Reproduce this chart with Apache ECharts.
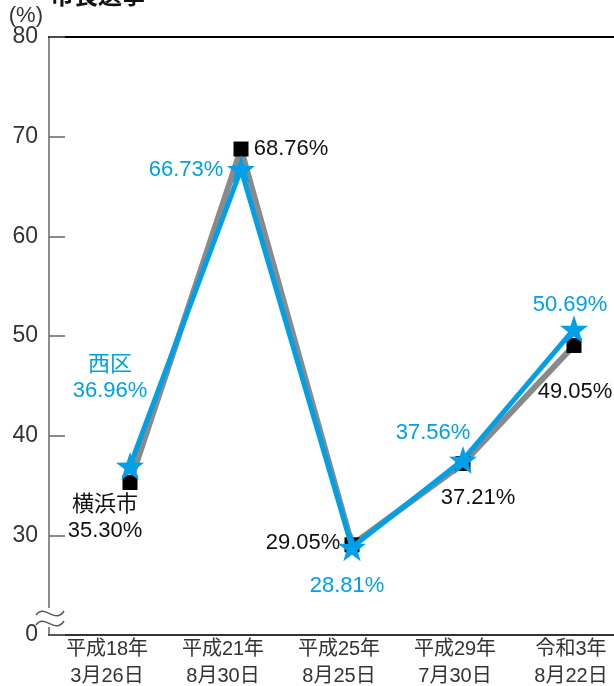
<!DOCTYPE html>
<html>
<head>
<meta charset="utf-8">
<script src="https://cdn.jsdelivr.net/npm/echarts@6/dist/echarts.min.js"></script>
<style>
html,body{margin:0;padding:0;background:#fff;}
#chart{width:614px;height:686px;}
</style>
</head>
<body>
<div id="chart"></div>
<script>
// ---- data ----
const titleText = '市長選挙';
const unitLabel = '(%)';
const categories = ['平成18年\n3月26日', '平成21年\n8月30日', '平成25年\n8月25日', '平成29年\n7月30日', '令和3年\n8月22日'];
const seriesNames = ['横浜市', '西区'];
const yokohama = [35.30, 68.76, 29.05, 37.21, 49.05];
const nishi = [36.96, 66.73, 28.81, 37.56, 50.69];
const yMin = 20, yMax = 80, yStep = 10;   // bottom of broken axis is labelled 0
const brokenBottomLabel = '0';

// ---- styles ----
const FONT = "'Liberation Sans', 'Noto Sans CJK JP', sans-serif";
const BLUE = '#00a0e9';
const GRAY = '#8a8a8a';
const yokohamaLabelOffsets = [[-25, 35], [50, 0], [-49, -2], [15, 34], [1, 46]];
const nishiLabelOffsets = [[-20, -88], [-55, 1], [-5, 39], [-30, -27], [-4, -24]];
const starPath = 'path://M50,0 L61.8,35.3 L98.9,35.5 L69.1,57.7 L80.2,93.2 L50,71.5 L19.8,93.2 L30.9,57.7 L1.1,35.5 L38.2,35.3 Z';

const fmt = p => (p.dataIndex === 0 ? p.seriesName + '\n' : '') + Number(p.value).toFixed(2) + '%';

const chart = echarts.init(document.getElementById('chart'), null, {renderer: 'canvas'});

const option = {
  animation: false,
  backgroundColor: '#fff',
  grid: [
    {left: 49, top: 37, width: 580, height: 598, containLabel: false, outerBoundsMode: 'none'},
    {left: 130, top: 37, width: 444, height: 598, containLabel: false, outerBoundsMode: 'none'}
  ],
  xAxis: [
    {
      type: 'category', gridIndex: 0, data: categories, boundaryGap: true, position: 'bottom',
      axisLine: {lineStyle: {color: '#333', width: 2}},
      axisTick: {inside: true, length: 15, lineStyle: {color: '#555', width: 1.5}},
      axisLabel: {margin: 1, fontFamily: FONT, fontSize: 20, lineHeight: 27, color: '#333'}
    },
    {
      type: 'category', gridIndex: 0, data: categories, position: 'top',
      axisLine: {lineStyle: {color: '#000', width: 2}},
      axisTick: {show: false}, axisLabel: {show: false}
    },
    {
      type: 'category', gridIndex: 1, data: categories, boundaryGap: false, show: false
    }
  ],
  yAxis: [
    {
      type: 'value', gridIndex: 0, min: yMin, max: yMax, interval: yStep,
      axisLine: {show: true, lineStyle: {color: '#666', width: 1.5}},
      axisTick: {show: true, inside: true, length: 16, lineStyle: {color: '#666', width: 1.5}},
      axisLabel: {
        margin: 11, fontFamily: FONT, fontSize: 23, color: '#333',
        formatter: v => (v === yMin ? brokenBottomLabel : String(v))
      },
      splitLine: {show: false}
    },
    {type: 'value', gridIndex: 1, min: yMin, max: yMax, interval: yStep, show: false}
  ],
  graphic: [
    {type: 'text', x: 50, y: 7, z: 10,
     style: {text: titleText, font: "bold 24px 'Noto Sans CJK JP', sans-serif", fill: '#111', verticalAlign: 'bottom'}},
    {type: 'text', x: 43, y: 16, z: 10,
     style: {text: unitLabel, fontSize: 22, fontFamily: "'Liberation Sans', sans-serif", fill: '#333', align: 'right', verticalAlign: 'middle'}},
    {type: 'rect', shape: {x: 44, y: 608, width: 10, height: 19}, style: {fill: '#fff'}, z: 20},
    {type: 'bezierCurve', z: 21, shape: {x1: 36, y1: 615, cpx1: 45, cpy1: 603, cpx2: 55, cpy2: 625, x2: 64, y2: 611},
     style: {stroke: '#555', lineWidth: 1.5, fill: null}},
    {type: 'bezierCurve', z: 21, shape: {x1: 36, y1: 625, cpx1: 45, cpy1: 613, cpx2: 55, cpy2: 635, x2: 64, y2: 621},
     style: {stroke: '#555', lineWidth: 1.5, fill: null}}
  ],
  series: [
    {
      name: seriesNames[0], type: 'line', xAxisIndex: 2, yAxisIndex: 1, z: 2,
      data: yokohama.map((v, i) => ({value: v, label: {offset: yokohamaLabelOffsets[i]}})),
      symbol: 'rect', symbolSize: 15,
      itemStyle: {color: '#000'},
      lineStyle: {color: GRAY, width: 6},
      label: {show: true, position: 'inside', formatter: fmt, fontFamily: FONT, fontSize: 22, lineHeight: 26, color: '#111', align: 'center', verticalAlign: 'middle'}
    },
    {
      name: seriesNames[1], type: 'line', xAxisIndex: 2, yAxisIndex: 1, z: 3,
      data: nishi.map((v, i) => ({value: v, label: {offset: nishiLabelOffsets[i]}})),
      symbol: starPath, symbolSize: 28,
      itemStyle: {color: BLUE},
      lineStyle: {color: BLUE, width: 5},
      label: {show: true, position: 'inside', formatter: fmt, fontFamily: FONT, fontSize: 22, lineHeight: 26, color: BLUE, align: 'center', verticalAlign: 'middle'}
    }
  ]
};
chart.setOption(option);
</script>
</body>
</html>
